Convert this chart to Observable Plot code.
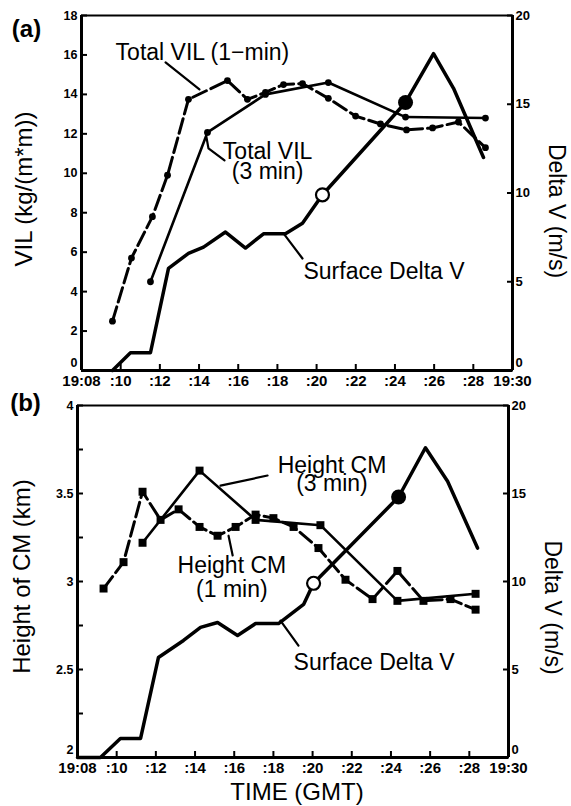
<!DOCTYPE html>
<html><head><meta charset="utf-8">
<script src="https://cdn.jsdelivr.net/npm/d3@7"></script>
<script src="https://cdn.jsdelivr.net/npm/@observablehq/plot@0.6"></script>
<style>
body{margin:0;background:#fff;}
#chart{position:relative;width:571px;height:806px;overflow:hidden;}
#chart svg{display:block;}
</style></head><body><div id="chart"></div>
<script>
// ---- shared x axis (minutes after 19:00) ----
const xTickValues = [8,10,12,14,16,18,20,22,24,26,28,30];
const xTickLabels = ["19:08",":10",":12",":14",":16",":18",":20",":22",":24",":26",":28","19:30"];

// ---- panel (a) ----
const vil1Time  = [9.58,10.55,11.62,12.39,13.46,15.45,16.47,17.39,18.31,19.28,20.6,21.99,23.26,24.59,25.92,27.24,28.62];
const vil1Value = [2.5,5.7,7.8,9.9,13.75,14.7,13.75,14.1,14.5,14.55,13.8,12.9,12.5,12.2,12.3,12.6,11.3];
const vil3Time  = [11.52,14.43,17.39,20.6,24.54,28.62];
const vil3Value = [4.5,12.07,14.0,14.6,12.85,12.8];
const dvATime   = [9.58,10.5,11.52,12.44,13.46,14.23,15.35,16.37,17.29,18.41,19.28,20.3,24.54,25.97,26.99,28.52];
const dvAValue  = [0,1.0,1.0,5.75,6.6,6.95,7.8,6.9,7.7,7.7,8.3,9.9,15.1,17.85,15.9,12.0];
const dvAOpenAt = 20.3, dvAFilledAt = 24.54;
const vilTicks = [0,2,4,6,8,10,12,14,16,18];
const dvTicks = [0,5,10,15,20];

// annotations (a): text, time, value (left axis units)
const annAText = ["Total VIL (1−min)","Total VIL\n(3 min)","Surface Delta V"];
const annATime = [9.74,17.5,19.33];
const annAValue = [16.1,10.545,5.0];
const leadA = [
  {g:1,t:12.29,v:15.62},{g:1,t:14.02,v:14.25},
  {g:2,t:14.38,v:11.82},{g:2,t:14.48,v:11.26},{g:2,t:15.3,v:10.65},
  {g:3,t:18.31,v:6.95},{g:3,t:19.28,v:5.68}
];

// ---- panel (b) ----
const cm1Time  = [9.33,10.35,11.32,12.24,13.16,14.23,15.15,16.07,17.09,18.0,19.03,20.3,21.68,23.06,24.33,25.66,27.04,28.32];
const cm1Value = [2.96,3.11,3.51,3.35,3.41,3.31,3.26,3.31,3.38,3.36,3.31,3.19,3.01,2.90,3.06,2.89,2.90,2.84];
const cm3Time  = [11.32,14.23,17.09,20.4,24.33,28.32];
const cm3Value = [3.22,3.63,3.35,3.32,2.89,2.93];
const dvBTime  = [8.0,9.17,10.19,11.22,12.13,13.41,14.28,15.15,16.17,17.09,18.26,19.54,20.05,24.39,25.76,26.89,28.42];
const dvBValue = [0,0,1.08,1.08,5.68,6.65,7.39,7.67,6.93,7.61,7.61,8.7,9.9,14.8,17.6,15.7,11.9];
const dvBOpenAt = 20.05, dvBFilledAt = 24.39;
const cmTicks = [2,2.25,2.5,2.75,3,3.25,3.5,3.75,4];

const annBText  = ["Height CM\n(3 min)","Height CM\n(1 min)","Surface Delta V"];
const annBTime  = [20.99,15.88,19.03];
const annBValue = [3.598,3.022,2.54];
const leadB = [
  {g:1,t:15.30,v:3.545},{g:1,t:17.70,v:3.602},
  {g:2,t:15.71,v:3.26},{g:2,t:15.92,v:3.148},
  {g:3,t:18.36,v:2.778},{g:3,t:19.28,v:2.636}
];

// ---- build rows ----
const rows = (ts, vs) => ts.map((t,i) => ({t, v: vs[i]}));
const vil1 = rows(vil1Time, vil1Value), vil3 = rows(vil3Time, vil3Value), dvA = rows(dvATime, dvAValue);
const cm1 = rows(cm1Time, cm1Value), cm3 = rows(cm3Time, cm3Value), dvB = rows(dvBTime, dvBValue);
const annA = annAText.map((s,i)=>({s,t:annATime[i],v:annAValue[i]}));
const annB = annBText.map((s,i)=>({s,t:annBTime[i],v:annBValue[i]}));

const FONT = "'Liberation Sans', Arial, Helvetica, sans-serif";
const xFmt = d => xTickLabels[xTickValues.indexOf(d)];
const kA = 18/20;                 // delta V -> VIL axis
const dvToB = v => 2 + v/10;      // delta V -> height axis

function frameRules(ymin, ymax) {
  return [
    Plot.ruleY([ymin], {strokeWidth: 3}),
    Plot.ruleY([ymax], {strokeWidth: 1.8}),
    Plot.ruleX([8], {strokeWidth: 3}),
    Plot.ruleX([30], {strokeWidth: 3})
  ];
}
const note = (d, o) => Plot.text([d], {x:"t", y:"v", text:"s", lineAnchor:"middle", fontSize:23, ...o});
const title = (s, o) => Plot.text([s], {textAnchor: "middle", lineAnchor: "middle", fontSize: 24, ...o});
// y axis: the lowest label sits a little above its tick, as in the original
function sideAxis(anchor, ticks, fmt, fontSize) {
  const common = {anchor, tickFormat: fmt, tickSize: -6, tickPadding: anchor === "left" ? 10 : 9, fontWeight: "bold", fontSize, strokeWidth: 2, label: null};
  return [
    Plot.axisY(ticks.slice(1), common),
    Plot.axisY(ticks.slice(0,1), {...common, tickSize: 0, tickPadding: anchor === "left" ? 4 : 3, dy: -8}),
    Plot.axisY(ticks.slice(0,1), {...common, text: null})
  ];
}

const plotA = Plot.plot({
  width: 571, height: 390,
  marginLeft: 81, marginRight: 59, marginTop: 15, marginBottom: 20,
  style: {fontFamily: FONT, background: "white", color: "black"},
  x: {domain: [8,30]},
  y: {domain: [0,18]},
  marks: [
    Plot.axisX(xTickValues, {tickFormat: xFmt, tickSize: -6, tickPadding: 11, fontWeight: "bold", fontSize: 15, strokeWidth: 2, label: null}),
    ...sideAxis("left", vilTicks, d => String(d), 12.5),
    ...sideAxis("right", dvTicks.map(v=>v*kA), d => String(Math.round(d/kA)), 13),
    ...frameRules(0, 18),
    Plot.line(dvA, {x:"t", y: d => d.v*kA, strokeWidth: 3.5}),
    Plot.line(vil3, {x:"t", y:"v", strokeWidth: 2.6}),
    Plot.dot(vil3, {x:"t", y:"v", r: 3.4, fill: "black"}),
    Plot.line(vil1, {x:"t", y:"v", strokeWidth: 3, strokeDasharray: "15,5"}),
    Plot.dot(vil1, {x:"t", y:"v", r: 3.4, fill: "black"}),
    Plot.dot(dvA.filter(d=>d.t===dvAOpenAt), {x:"t", y: d=>d.v*kA, r: 6.5, fill: "white", stroke: "black", strokeWidth: 2.2}),
    Plot.dot(dvA.filter(d=>d.t===dvAFilledAt), {x:"t", y: d=>d.v*kA, r: 7.5, fill: "black"}),
    Plot.line(leadA, {x:"t", y:"v", z:"g", strokeWidth: 2.2}),
    note(annA[0], {textAnchor: "start"}),
    note(annA[1], {textAnchor: "middle", lineHeight: 0.87}),
    note(annA[2], {textAnchor: "start"}),
    title("VIL (kg/(m*m))", {frameAnchor: "left", rotate: -90, dx: -57, dy: -4}),
    title("Delta V (m/s)", {frameAnchor: "right", rotate: 90, dx: 44, dy: 18, fontSize: 23}),
    title("(a)", {frameAnchor: "top-left", dx: -55, dy: 14, fontWeight: "bold"})
  ]
});

const plotB = Plot.plot({
  width: 571, height: 416,
  marginLeft: 77, marginRight: 63, marginTop: 15, marginBottom: 49,
  style: {fontFamily: FONT, background: "white", color: "black"},
  x: {domain: [8,30]},
  y: {domain: [2,4]},
  marks: [
    Plot.axisX(xTickValues, {tickFormat: xFmt, tickSize: -6, tickPadding: 11, fontWeight: "bold", fontSize: 15, strokeWidth: 2, label: null}),
    ...sideAxis("left", cmTicks, d => (d*2) % 1 === 0 ? String(d) : "", 12.5),
    ...sideAxis("right", dvTicks.map(dvToB), d => String(Math.round((d-2)*10)), 13),
    ...frameRules(2, 4),
    Plot.line(dvB, {x:"t", y: d => dvToB(d.v), strokeWidth: 3.5}),
    Plot.line(cm3, {x:"t", y:"v", strokeWidth: 2.6}),
    Plot.dot(cm3, {x:"t", y:"v", r: 4.5, symbol: "square", fill: "black"}),
    Plot.line(cm1, {x:"t", y:"v", strokeWidth: 3, strokeDasharray: "15,5"}),
    Plot.dot(cm1, {x:"t", y:"v", r: 4.5, symbol: "square", fill: "black"}),
    Plot.dot(dvB.filter(d=>d.t===dvBOpenAt), {x:"t", y: d=>dvToB(d.v), r: 6.5, fill: "white", stroke: "black", strokeWidth: 2.2}),
    Plot.dot(dvB.filter(d=>d.t===dvBFilledAt), {x:"t", y: d=>dvToB(d.v), r: 7.5, fill: "black"}),
    Plot.line(leadB, {x:"t", y:"v", z:"g", strokeWidth: 2.2}),
    note(annB[0], {textAnchor: "middle", lineHeight: 0.78}),
    note(annB[1], {textAnchor: "middle", lineHeight: 1.04}),
    note(annB[2], {textAnchor: "start"}),
    title("Height of CM (km)", {frameAnchor: "left", rotate: -90, dx: -55, dy: -5}),
    title("Delta V (m/s)", {frameAnchor: "right", rotate: 90, dx: 44, dy: 26, fontSize: 23}),
    title("TIME (GMT)", {frameAnchor: "bottom", dx: 4, dy: 35}),
    title("(b)", {frameAnchor: "top-left", dx: -52, dy: -2, fontWeight: "bold"})
  ]
});

const chart = document.getElementById("chart");
chart.append(plotA, plotB);
</script>
</body></html>
